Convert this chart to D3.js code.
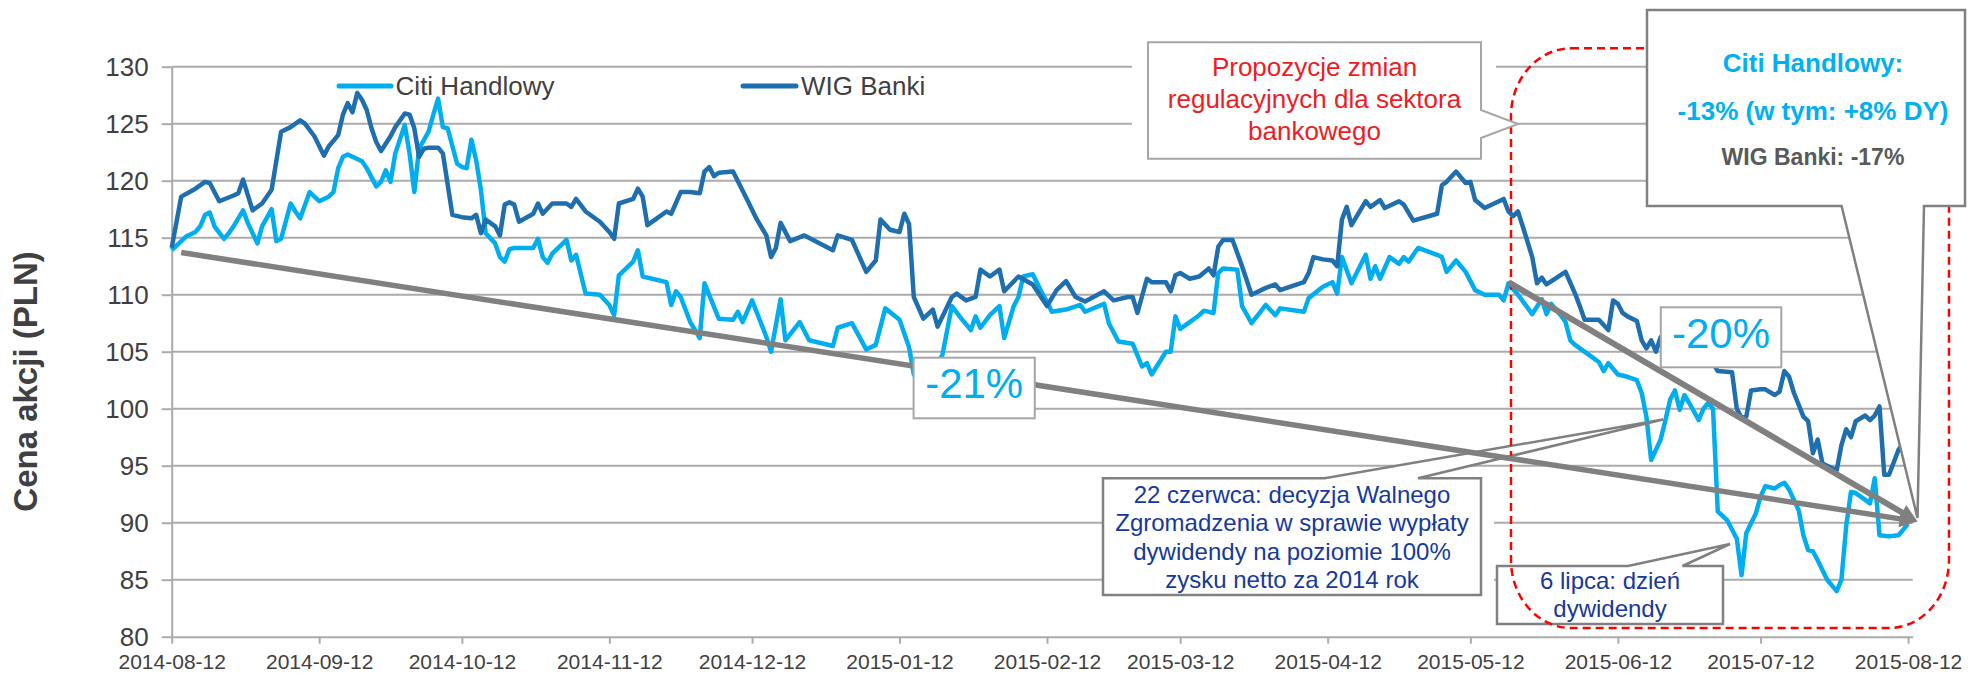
<!DOCTYPE html>
<html><head><meta charset="utf-8">
<script src="https://cdn.jsdelivr.net/npm/d3@7"></script>
<style>body{margin:0;background:#fff;} svg{display:block;font-family:"Liberation Sans",Arial,sans-serif;}</style>
</head><body><svg id="chart" width="1970" height="673"></svg>
<script>
// ---------------- DATA ----------------
const seriesNames = ["Citi Handlowy", "WIG Banki"];
const citiDates = ["2014-08-12","2014-08-14","2014-08-15","2014-08-17","2014-08-18","2014-08-19","2014-08-20","2014-08-21","2014-08-23","2014-08-24","2014-08-25","2014-08-27","2014-08-28","2014-08-30","2014-08-31","2014-09-02","2014-09-03","2014-09-04","2014-09-06","2014-09-07","2014-09-08","2014-09-10","2014-09-12","2014-09-14","2014-09-15","2014-09-16","2014-09-17","2014-09-18","2014-09-21","2014-09-22","2014-09-24","2014-09-25","2014-09-26","2014-09-27","2014-09-28","2014-09-30","2014-10-01","2014-10-02","2014-10-03","2014-10-05","2014-10-06","2014-10-07","2014-10-08","2014-10-09","2014-10-11","2014-10-12","2014-10-13","2014-10-14","2014-10-15","2014-10-16","2014-10-17","2014-10-19","2014-10-20","2014-10-21","2014-10-22","2014-10-23","2014-10-27","2014-10-28","2014-10-29","2014-10-30","2014-10-31","2014-11-03","2014-11-04","2014-11-05","2014-11-07","2014-11-10","2014-11-12","2014-11-13","2014-11-14","2014-11-17","2014-11-18","2014-11-19","2014-11-24","2014-11-25","2014-11-26","2014-11-27","2014-11-29","2014-12-01","2014-12-02","2014-12-05","2014-12-08","2014-12-09","2014-12-10","2014-12-12","2014-12-15","2014-12-16","2014-12-18","2014-12-19","2014-12-22","2014-12-24","2014-12-29","2014-12-30","2015-01-02","2015-01-05","2015-01-07","2015-01-09","2015-01-12","2015-01-14","2015-01-15","2015-01-18","2015-01-21","2015-01-23","2015-01-25","2015-01-27","2015-01-28","2015-01-29","2015-01-31","2015-02-02","2015-02-03","2015-02-05","2015-02-06","2015-02-07","2015-02-09","2015-02-11","2015-02-12","2015-02-13","2015-02-16","2015-02-19","2015-02-20","2015-02-24","2015-02-25","2015-02-27","2015-03-02","2015-03-04","2015-03-05","2015-03-06","2015-03-09","2015-03-10","2015-03-11","2015-03-12","2015-03-14","2015-03-16","2015-03-17","2015-03-19","2015-03-20","2015-03-21","2015-03-24","2015-03-25","2015-03-27","2015-03-30","2015-04-01","2015-04-02","2015-04-07","2015-04-08","2015-04-11","2015-04-13","2015-04-14","2015-04-15","2015-04-17","2015-04-20","2015-04-21","2015-04-22","2015-04-23","2015-04-25","2015-04-27","2015-04-28","2015-04-29","2015-05-01","2015-05-05","2015-05-06","2015-05-07","2015-05-09","2015-05-11","2015-05-13","2015-05-15","2015-05-18","2015-05-19","2015-05-20","2015-05-22","2015-05-25","2015-05-27","2015-05-28","2015-05-29","2015-05-31","2015-06-01","2015-06-02","2015-06-03","2015-06-06","2015-06-08","2015-06-09","2015-06-10","2015-06-12","2015-06-14","2015-06-16","2015-06-17","2015-06-18","2015-06-19","2015-06-21","2015-06-22","2015-06-23","2015-06-24","2015-06-25","2015-06-26","2015-06-27","2015-06-29","2015-06-30","2015-07-01","2015-07-02","2015-07-03","2015-07-05","2015-07-06","2015-07-07","2015-07-08","2015-07-09","2015-07-11","2015-07-12","2015-07-13","2015-07-15","2015-07-16","2015-07-17","2015-07-18","2015-07-20","2015-07-21","2015-07-22","2015-07-23","2015-07-24","2015-07-26","2015-07-28","2015-07-29","2015-07-30","2015-07-31","2015-08-01","2015-08-03","2015-08-04","2015-08-05","2015-08-06","2015-08-08","2015-08-10","2015-08-12"];
const citiValues = [113.9,114.7,115.1,115.5,116.0,117.0,117.2,116.0,114.9,115.4,116.0,117.4,116.3,114.5,116.0,117.5,114.7,114.9,118.0,117.3,116.7,119.0,118.2,118.6,119.0,121.1,122.1,122.3,121.7,121.1,119.5,119.9,120.9,119.9,122.4,124.9,122.4,119.0,122.8,124.3,125.8,127.2,124.7,124.6,121.5,121.2,121.1,123.6,121.8,119.2,115.4,114.5,113.3,112.9,114.0,114.1,114.1,114.9,113.3,112.8,113.6,114.8,113.0,113.5,110.1,110.0,109.1,108.2,111.7,112.9,113.9,111.6,111.1,109.1,110.3,109.8,107.6,106.2,111.0,107.9,107.8,108.5,107.6,109.5,106.3,105.0,109.6,106.0,107.6,106.0,105.5,107.1,107.5,105.2,105.6,108.8,107.8,105.4,103.0,102.8,104.7,109.0,107.9,106.9,108.1,107.1,108.2,109.0,106.2,109.0,109.8,111.6,111.8,110.1,109.4,108.5,108.7,109.1,108.5,109.2,107.5,105.9,105.7,103.7,104.0,103.0,105.0,105.0,108.1,107.0,107.6,108.2,108.6,108.4,111.9,112.3,112.2,109.0,107.5,109.1,108.2,108.8,108.5,109.7,110.7,111.1,110.1,113.3,111.0,113.5,111.4,112.5,111.4,113.3,112.7,113.3,112.9,114.1,113.5,113.3,112.0,113.0,112.0,110.4,110.0,110.0,109.5,111.0,110.0,108.3,109.6,108.3,109.2,108.2,107.6,106.0,105.6,104.7,104.1,103.3,104.0,103.0,102.8,102.5,101.4,99.3,95.5,97.3,99.0,100.8,101.6,99.9,101.2,100.5,99.0,100.0,100.5,100.0,91.0,90.2,89.4,88.6,85.4,89.1,90.8,92.3,93.2,93.0,93.3,93.5,92.9,91.1,88.9,87.6,87.5,86.7,85.0,84.0,85.0,89.7,92.7,92.6,92.0,91.7,93.9,88.9,88.8,88.9,89.9];
const wigDates = ["2014-08-12","2014-08-14","2014-08-17","2014-08-19","2014-08-20","2014-08-22","2014-08-25","2014-08-26","2014-08-27","2014-08-29","2014-08-31","2014-09-02","2014-09-04","2014-09-06","2014-09-08","2014-09-09","2014-09-11","2014-09-13","2014-09-14","2014-09-16","2014-09-17","2014-09-18","2014-09-19","2014-09-20","2014-09-21","2014-09-22","2014-09-23","2014-09-24","2014-09-25","2014-09-27","2014-09-28","2014-09-30","2014-10-01","2014-10-02","2014-10-03","2014-10-04","2014-10-05","2014-10-07","2014-10-08","2014-10-10","2014-10-12","2014-10-14","2014-10-15","2014-10-16","2014-10-17","2014-10-19","2014-10-20","2014-10-21","2014-10-22","2014-10-23","2014-10-24","2014-10-27","2014-10-28","2014-10-29","2014-10-31","2014-11-03","2014-11-04","2014-11-05","2014-11-07","2014-11-10","2014-11-12","2014-11-13","2014-11-14","2014-11-17","2014-11-18","2014-11-19","2014-11-20","2014-11-22","2014-11-24","2014-11-25","2014-11-27","2014-11-29","2014-12-01","2014-12-02","2014-12-03","2014-12-04","2014-12-05","2014-12-08","2014-12-11","2014-12-13","2014-12-15","2014-12-16","2014-12-17","2014-12-18","2014-12-20","2014-12-23","2014-12-29","2014-12-30","2015-01-02","2015-01-05","2015-01-07","2015-01-08","2015-01-10","2015-01-12","2015-01-13","2015-01-14","2015-01-15","2015-01-17","2015-01-19","2015-01-20","2015-01-23","2015-01-24","2015-01-26","2015-01-28","2015-01-29","2015-01-31","2015-02-02","2015-02-03","2015-02-06","2015-02-09","2015-02-12","2015-02-14","2015-02-16","2015-02-18","2015-02-20","2015-02-24","2015-02-26","2015-03-01","2015-03-02","2015-03-03","2015-03-05","2015-03-06","2015-03-09","2015-03-10","2015-03-11","2015-03-12","2015-03-14","2015-03-16","2015-03-18","2015-03-19","2015-03-20","2015-03-21","2015-03-23","2015-03-25","2015-03-27","2015-03-30","2015-04-01","2015-04-02","2015-04-07","2015-04-08","2015-04-09","2015-04-11","2015-04-13","2015-04-14","2015-04-15","2015-04-16","2015-04-17","2015-04-20","2015-04-21","2015-04-23","2015-04-24","2015-04-27","2015-04-28","2015-04-30","2015-05-05","2015-05-06","2015-05-07","2015-05-09","2015-05-11","2015-05-12","2015-05-13","2015-05-15","2015-05-19","2015-05-20","2015-05-21","2015-05-22","2015-05-23","2015-05-25","2015-05-26","2015-05-27","2015-05-28","2015-06-01","2015-06-03","2015-06-04","2015-06-05","2015-06-08","2015-06-10","2015-06-11","2015-06-12","2015-06-13","2015-06-14","2015-06-16","2015-06-17","2015-06-18","2015-06-19","2015-06-20","2015-06-21","2015-06-25","2015-06-29","2015-07-02","2015-07-03","2015-07-06","2015-07-07","2015-07-08","2015-07-09","2015-07-10","2015-07-12","2015-07-13","2015-07-15","2015-07-16","2015-07-17","2015-07-18","2015-07-19","2015-07-21","2015-07-22","2015-07-23","2015-07-24","2015-07-25","2015-07-27","2015-07-28","2015-07-29","2015-07-30","2015-07-31","2015-08-01","2015-08-03","2015-08-04","2015-08-05","2015-08-06","2015-08-07","2015-08-08","2015-08-10","2015-08-12"];
const wigValues = [114.1,118.6,119.3,119.9,119.8,118.2,118.7,118.9,120.1,117.4,118.0,119.2,124.3,124.7,125.3,125.0,123.9,122.2,123.0,124.0,125.8,126.8,126.0,127.7,127.1,126.2,124.6,123.4,122.6,123.9,124.7,125.9,125.8,124.6,122.1,122.8,122.9,122.9,122.4,117.0,116.8,116.7,117.0,115.4,116.6,116.0,115.2,117.9,118.1,117.9,116.4,117.1,118.0,117.1,118.0,118.0,117.7,118.4,117.3,116.4,115.5,114.9,118.0,118.4,119.3,118.6,116.1,116.7,117.3,117.1,119.0,119.0,118.9,120.8,121.2,120.4,120.7,120.8,118.3,116.6,115.2,113.3,114.1,116.3,114.7,115.2,113.9,115.2,114.8,112.0,113.0,116.6,115.7,115.5,117.1,116.2,109.8,107.9,108.7,107.2,109.8,110.1,109.5,109.8,112.2,111.6,112.2,110.3,111.6,110.9,109.0,110.4,111.2,109.8,109.4,110.3,109.5,109.8,109.8,108.4,111.4,111.1,111.1,110.3,111.7,111.9,111.4,111.6,112.3,111.7,114.2,114.8,114.8,112.5,110.0,110.6,110.9,110.4,111.1,111.9,113.3,113.1,113.0,112.5,116.6,117.7,116.1,118.2,117.7,118.3,117.6,118.2,117.9,116.5,117.1,119.6,119.9,120.8,119.8,119.9,118.3,117.6,118.4,117.3,116.9,117.3,116.0,113.3,111.0,111.5,110.9,112.0,110.1,109.0,107.8,107.8,106.9,109.5,109.2,108.4,108.1,107.7,106.0,105.3,106.0,105.0,106.3,106.5,105.0,104.0,103.3,103.2,100.0,99.2,99.3,101.6,101.7,101.7,101.2,101.5,103.3,102.8,101.4,99.3,98.9,96.1,97.3,95.2,94.8,94.6,96.8,98.2,97.5,98.9,99.4,99.0,99.4,100.2,94.2,94.2,96.4,97.6];
const yTicks = [80, 85, 90, 95, 100, 105, 110, 115, 120, 125, 130];
const xTickLabels = ["2014-08-12","2014-09-12","2014-10-12","2014-11-12","2014-12-12","2015-01-12","2015-02-12","2015-03-12","2015-04-12","2015-05-12","2015-06-12","2015-07-12","2015-08-12"];
const trendLabels = ["-21%", "-20%"];
const trendStartDates = ["2014-08-14", "2015-05-20"];
const trendStartValues = [113.7, 111.1];
const trendEndDate = "2015-08-14";
const trendEndValue = 90.1;
const yTitle = "Cena akcji (PLN)";
const calloutRed = ["Propozycje zmian", "regulacyjnych dla sektora", "bankowego"];
const calloutAgm = ["22 czerwca: decyzja Walnego", "Zgromadzenia w sprawie wypłaty", "dywidendy na poziomie 100%", "zysku netto za 2014 rok"];
const calloutDiv = ["6 lipca: dzień", "dywidendy"];
const summaryLines = ["Citi Handlowy:", "-13% (w tym: +8% DY)", "WIG Banki: -17%"];

// ---------------- SETUP ----------------
const C_CITI = "#00AEEF", C_WIG = "#1F6EAE", C_GRID = "#ABABAB", C_TXT = "#404040",
      C_ARROW = "#808080", C_NAVY = "#17399A", C_RED = "#EE1C25";
const parse = d3.utcParse("%Y-%m-%d");
const svg = d3.select("#chart");
const x = d3.scaleUtc().domain([parse("2014-08-12"), parse("2015-08-13")]).range([171.7, 1912.8]);
const y = d3.scaleLinear().domain([80, 130]).range([636.7, 66.7]);
const X0 = x.range()[0], X1 = x.range()[1];

// gridlines
svg.append("g").selectAll("line").data(yTicks.filter(v => v > 80)).join("line")
  .attr("x1", X0).attr("x2", X1).attr("y1", d => y(d)).attr("y2", d => y(d))
  .attr("stroke", C_GRID).attr("stroke-width", 2);

// axes
const gy = svg.append("g").attr("transform", `translate(${X0},0)`)
  .call(d3.axisLeft(y).tickValues(yTicks).tickSize(10).tickPadding(13).tickSizeOuter(0));
const gx = svg.append("g").attr("transform", `translate(0,${y(80)})`)
  .call(d3.axisBottom(x).tickValues(xTickLabels.map(parse)).tickSize(7).tickPadding(10)
    .tickSizeOuter(0).tickFormat(d3.utcFormat("%Y-%m-%d")));
[gy, gx].forEach(g => {
  g.select(".domain").attr("stroke", C_GRID).attr("stroke-width", 2);
  g.selectAll(".tick line").attr("stroke", C_GRID).attr("stroke-width", 2);
  g.selectAll("text").attr("fill", C_TXT).style("font-family", '"Liberation Sans", Arial, sans-serif');
});
gy.selectAll("text").style("font-size", "26px");
gx.selectAll("text").style("font-size", "21px");

// series
const line = d3.line().x(d => x(d.date)).y(d => y(d.value));
const citi = citiDates.map((d, i) => ({date: parse(d), value: citiValues[i]}));
const wig = wigDates.map((d, i) => ({date: parse(d), value: wigValues[i]}));
[[citi, C_CITI], [wig, C_WIG]].forEach(([data, c]) => {
  svg.append("path").datum(data).attr("d", line).attr("fill", "none")
    .attr("stroke", c).attr("stroke-width", 4.5).attr("stroke-linejoin", "round");
});

// helper for multi-line text
function lines(g, arr, cx, baselines, size, color, weight) {
  arr.forEach((t, i) => g.append("text").attr("x", cx).attr("y", baselines[i])
    .attr("text-anchor", "middle").attr("font-size", size).attr("font-weight", weight || "normal")
    .attr("fill", color).text(t));
}

// annotation callouts (lower)
const ann = svg.append("g");
ann.append("rect").attr("x", 1102).attr("y", 472).attr("width", 392).attr("height", 128).attr("fill", "#fff");
ann.append("path").attr("d", "M1103,478.3 H1324.7 L1663,419.5 L1418,478.3 H1481 V595 H1103 Z")
  .attr("fill", "#fff").attr("stroke", "#808080").attr("stroke-width", 2.5);
lines(ann, calloutAgm, 1292, [502.5, 531, 559.5, 588], 24, C_NAVY);
ann.append("path").attr("d", "M1497,566 H1628 L1730,544 L1682.5,566 H1723 V624 H1497 Z")
  .attr("fill", "#fff").attr("stroke", "#808080").attr("stroke-width", 2.5);
lines(ann, calloutDiv, 1610, [589, 617.3], 24, C_NAVY);

// dashed region
svg.append("rect").attr("x", 1511).attr("y", 48.3).attr("width", 1949 - 1511).attr("height", 628 - 48.3)
  .attr("rx", 60).attr("ry", 68).attr("fill", "none").attr("stroke", "#FF0000")
  .attr("stroke-width", 2.5).attr("stroke-dasharray", "8,5");

// big summary callout
const big = svg.append("g");
big.append("path").attr("d", "M1647,10 H1965 V206 H1924 L1917.5,518 L1841.6,206 H1647 Z")
  .attr("fill", "#fff").attr("stroke", "#808080").attr("stroke-width", 2.5);
lines(big, summaryLines.slice(0, 2), 1813, [71.7, 120], 26, "#00B0F0", "bold");
lines(big, summaryLines.slice(2), 1813, [165], 23, "#595959", "bold");

// red callout
const red = svg.append("g");
red.append("rect").attr("x", 1132).attr("y", 36).attr("width", 364).attr("height", 129).attr("fill", "#fff");
red.append("path").attr("d", "M1148,42.3 H1481 V110 L1518,124 L1481,138 V158.7 H1148 Z")
  .attr("fill", "#fff").attr("stroke", "#A6A6A6").attr("stroke-width", 2);
lines(red, calloutRed, 1314.5, [76, 108, 139.5], 26, C_RED);

// trend arrows
const tip = [x(parse(trendEndDate)), y(trendEndValue)];
trendStartDates.forEach((sd, i) => {
  const s = [x(parse(sd)), y(trendStartValues[i])];
  const dx = tip[0] - s[0], dy = tip[1] - s[1], len = Math.hypot(dx, dy);
  const ux = dx / len, uy = dy / len, L = 18, W = 8.5;
  const b = [tip[0] - L * ux, tip[1] - L * uy];
  svg.append("line").attr("x1", s[0]).attr("y1", s[1]).attr("x2", b[0] + 2 * ux).attr("y2", b[1] + 2 * uy)
    .attr("stroke", C_ARROW).attr("stroke-width", i === 0 ? 5.5 : 6);
  svg.append("path").attr("d", `M${tip[0]},${tip[1]} L${b[0] - W * uy},${b[1] + W * ux} L${b[0] + W * uy},${b[1] - W * ux} Z`)
    .attr("fill", C_ARROW);
});

// percentage boxes
const pbox = [[913.6, 357.7, 121.2, 60.6, 398.3], [1660.8, 307.3, 120.5, 60, 348]];
pbox.forEach((b, i) => {
  svg.append("rect").attr("x", b[0]).attr("y", b[1]).attr("width", b[2]).attr("height", b[3])
    .attr("fill", "#fff").attr("stroke", "#A6A6A6").attr("stroke-width", 2);
  svg.append("text").attr("x", b[0] + b[2] / 2).attr("y", b[4]).attr("text-anchor", "middle")
    .attr("font-size", 42).attr("fill", C_CITI).text(trendLabels[i]);
});

// legend
const legend = [[339, 391, 395.6, C_CITI], [743, 796, 801, C_WIG]];
legend.forEach((l, i) => {
  svg.append("line").attr("x1", l[0]).attr("x2", l[1]).attr("y1", 86).attr("y2", 86)
    .attr("stroke", l[3]).attr("stroke-width", 5).attr("stroke-linecap", "round");
  svg.append("text").attr("x", l[2]).attr("y", 94.5).attr("font-size", 26).attr("fill", C_TXT).text(seriesNames[i]);
});

// y title
svg.append("text").attr("transform", "translate(36.7,381.5) rotate(-90)").attr("text-anchor", "middle")
  .attr("font-size", 33).attr("font-weight", "bold").attr("fill", C_TXT).text(yTitle);
</script>
</body></html>
